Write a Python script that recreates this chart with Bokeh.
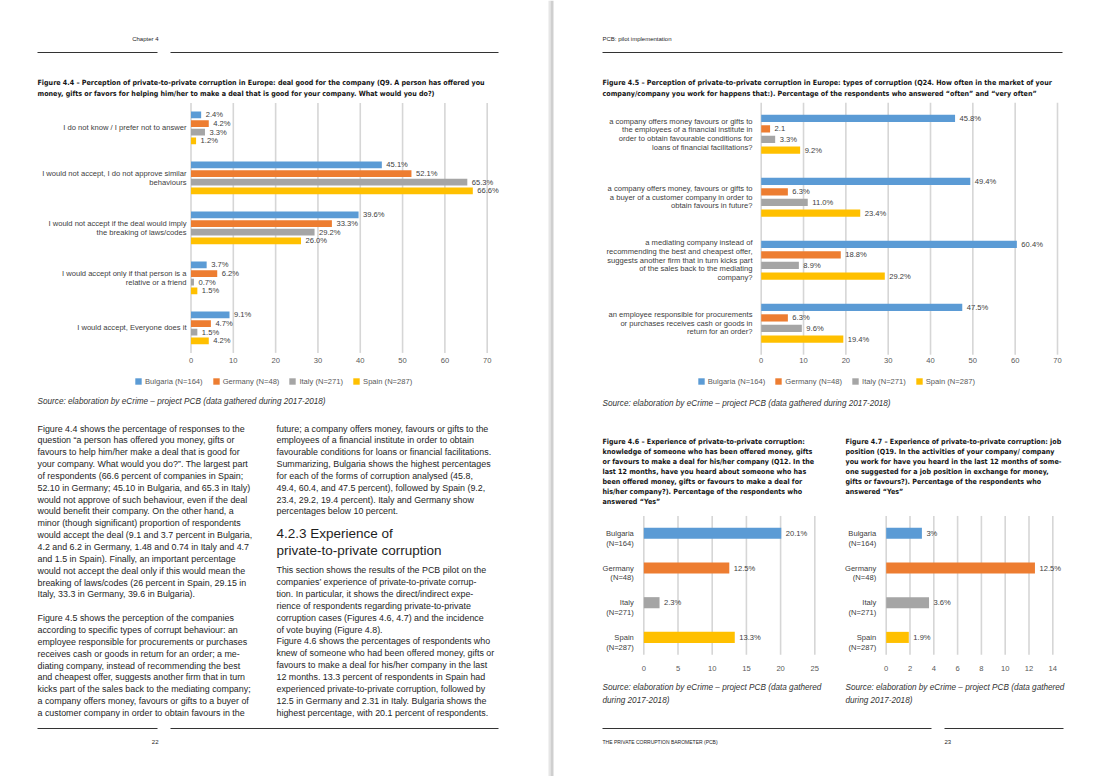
import numpy as np
from bokeh.plotting import figure
from bokeh.models import Range1d, ColumnDataSource, Legend, LegendItem
from bokeh.core.properties import value
from bokeh.transform import dodge
from bokeh.embed import file_html
from bokeh.resources import INLINE

# ---------------- data ----------------
series_names = ["Bulgaria (N=164)", "Germany (N=48)", "Italy (N=271)", "Spain (N=287)"]
series_colors = ["#5B9BD5", "#ED7D31", "#A5A5A5", "#FFC000"]

fig44_categories = [
    "I do not know / I prefer not to answer",
    "I would not accept, I do not approve similar\nbehaviours",
    "I would not accept if the deal would imply\nthe breaking of laws/codes",
    "I would accept only if that person is a\nrelative or a friend",
    "I would accept, Everyone does it",
]
fig44_bulgaria = [2.4, 45.1, 39.6, 3.7, 9.1]
fig44_germany = [4.2, 52.1, 33.3, 6.2, 4.7]
fig44_italy = [3.3, 65.3, 29.2, 0.7, 1.5]
fig44_spain = [1.2, 66.6, 26.0, 1.5, 4.2]
fig44_ticks = [0, 10, 20, 30, 40, 50, 60, 70]

fig45_categories = [
    "a company offers money favours or gifts to\nthe employees of a financial institute in\norder to obtain favourable conditions for\nloans of financial facilitations?",
    "a company offers money, favours or gifts to\na buyer of a customer company in order to\nobtain favours in future?",
    "a mediating company instead of\nrecommending the best and cheapest offer,\nsuggests another firm that in turn kicks part\nof the sales back to the mediating\ncompany?",
    "an employee responsible for procurements\nor purchases receives cash or goods in\nreturn for an order?",
]
fig45_bulgaria = [45.8, 49.4, 60.4, 47.5]
fig45_germany = [2.1, 6.3, 18.8, 6.3]
fig45_italy = [3.3, 11.0, 8.9, 9.6]
fig45_spain = [9.2, 23.4, 29.2, 19.4]
fig45_ticks = [0, 10, 20, 30, 40, 50, 60, 70]
fig45_label_overrides = {(1, 0): "2.1"}

country_labels = ["Bulgaria\n(N=164)", "Germany\n(N=48)", "Italy\n(N=271)", "Spain\n(N=287)"]
fig46_values = [20.1, 12.5, 2.3, 13.3]
fig46_ticks = [0, 5, 10, 15, 20, 25]
fig47_values = [3.0, 12.5, 3.6, 1.9]
fig47_ticks = [0, 2, 4, 6, 8, 10, 12, 14]
fig47_label_overrides = {0: "3%"}

# ---------------- page canvas ----------------
W, H = 1100, 776
FX0, FX1 = 0, W
FY0, FY1 = 0, H

p = figure(width=W, height=H, output_backend="svg", toolbar_location=None,
           x_range=Range1d(FX0, FX1), y_range=Range1d(FY1, FY0),
           x_axis_type=None, y_axis_type=None, min_border=0,
           outline_line_color=None, background_fill_color="white",
           border_fill_color="white")

BODY = "Liberation Sans"
TITLE = "DejaVu Sans Condensed"
TF = "7.1px"
TXT = "#1e1e1e"
TTL = "#141414"
LAB = "#404040"
TICK = "#595959"
LBL = "7.6px"


def text(x, y, rows, size, font=BODY, style="normal", color=TXT, align="left", baseline="middle"):
    xs = [x] * len(rows) if not isinstance(x, list) else x
    ys = y if isinstance(y, list) else [y]
    p.text(x=xs, y=ys, text=rows, text_font=value(font), text_font_size=size,
           text_font_style=style, text_color=color, text_align=align,
           text_baseline=baseline)


def block(x, y0, dy, rows, size, **kw):
    xs, ys, ts = [], [], []
    for i, r in enumerate(rows):
        if r:
            xs.append(x); ys.append(y0 + i * dy); ts.append(r)
    text(xs, ys, ts, size, **kw)


# page gutter
p.quad(left=[548], right=[550], top=[FY0], bottom=[FY1], fill_color="#e6e6e6", line_color=None)
p.quad(left=[550], right=[553], top=[FY0], bottom=[FY1], fill_color="#cfcfcf", line_color=None)

# header / footer rules
p.segment(x0=[37, 170, 602, 37, 170, 602, 944], y0=[52, 52, 52, 728, 728, 728, 728],
          x1=[157, 498, 1062, 157, 498, 931, 1063], y1=[52, 52, 52, 728, 728, 728, 728],
          line_color="#333333", line_width=1)
text(158, 38, ["Chapter 4"], "6px", align="right")
text(602, 38, ["PCB: pilot implementation"], "6px")
text(158, 741, ["22"], "6px", align="right")
text(944, 741, ["23"], "6px")
text(602, 741, ["THE PRIVATE CORRUPTION BAROMETER (PCB)"], "5px")

# figure titles
block(37, 82, 11, [
    "Figure 4.4 \u2013 Perception of private-to-private corruption in Europe: deal good for the company (Q9. A person has offered you",
    "money, gifts or favors for helping him/her to make a deal that is good for your company. What would you do?)",
], TF, font=TITLE, style="bold", color=TTL)
block(602, 82, 11, [
    "Figure 4.5 \u2013 Perception of private-to-private corruption in Europe: types of corruption (Q24. How often in the market of your",
    "company/company you work for happens that:). Percentage of the respondents who answered \u201coften\u201d and \u201cvery often\u201d",
], TF, font=TITLE, style="bold", color=TTL)
block(602, 440.5, 10.15, [
    "Figure 4.6 \u2013 Experience of private-to-private corruption:",
    "knowledge of someone who has been offered money, gifts",
    "or favours to make a deal for his/her company (Q12. In the",
    "last 12 months, have you heard about someone who has",
    "been offered money, gifts or favours to make a deal for",
    "his/her company?). Percentage of the respondents who",
    "answered \u201cYes\u201d",
], TF, font=TITLE, style="bold", color=TTL)
block(845, 440.5, 10.15, [
    "Figure 4.7 \u2013 Experience of private-to-private corruption: job",
    "position (Q19. In the activities of your company/ company",
    "you work for have you heard in the last 12 months of some-",
    "one suggested for a job position in exchange for money,",
    "gifts or favours?). Percentage of the respondents who",
    "answered \u201cYes\u201d",
], TF, font=TITLE, style="bold", color=TTL)

# sources
SRC = "Source: elaboration by eCrime \u2013 project PCB (data gathered during 2017-2018)"
SRCF = "8.2px"
text(37, 401, [SRC], SRCF, style="italic", color="#333333")
text(602, 403, [SRC], SRCF, style="italic", color="#333333")
block(602, 687, 12.5, ["Source: elaboration by eCrime \u2013 project PCB (data gathered", "during 2017-2018)"],
      SRCF, style="italic", color="#333333")
block(845, 687, 12.5, ["Source: elaboration by eCrime \u2013 project PCB (data gathered", "during 2017-2018)"],
      SRCF, style="italic", color="#333333")

# body text
LH = 11.85
BF = "8.9px"
col1 = [
    "Figure 4.4 shows the percentage of responses to the",
    "question \u201ca person has offered you money, gifts or",
    "favours to help him/her make a deal that is good for",
    "your company. What would you do?\u201d. The largest part",
    "of respondents (66.6 percent of companies in Spain;",
    "52.10 in Germany; 45.10 in Bulgaria, and 65.3 in Italy)",
    "would not approve of such behaviour, even if the deal",
    "would benefit their company. On the other hand, a",
    "minor (though significant) proportion of respondents",
    "would accept the deal (9.1 and 3.7 percent in Bulgaria,",
    "4.2 and 6.2 in Germany, 1.48 and 0.74 in Italy and 4.7",
    "and 1.5 in Spain). Finally, an important percentage",
    "would not accept the deal only if this would mean the",
    "breaking of laws/codes (26 percent in Spain, 29.15 in",
    "Italy, 33.3 in Germany, 39.6 in Bulgaria).",
    "",
    "Figure 4.5 shows the perception of the companies",
    "according to specific types of corrupt behaviour: an",
    "employee responsible for procurements or purchases",
    "receives cash or goods in return for an order; a me-",
    "diating company, instead of recommending the best",
    "and cheapest offer, suggests another firm that in turn",
    "kicks part of the sales back to the mediating company;",
    "a company offers money, favours or gifts to a buyer of",
    "a customer company in order to obtain favours in the",
]
block(37, 428, LH, col1, BF)
col2a = [
    "future; a company offers money, favours or gifts to the",
    "employees of a financial institute in order to obtain",
    "favourable conditions for loans or financial facilitations.",
    "Summarizing, Bulgaria shows the highest percentages",
    "for each of the forms of corruption analysed (45.8,",
    "49.4, 60.4, and 47.5 percent), followed by Spain (9.2,",
    "23.4, 29.2, 19.4 percent). Italy and Germany show",
    "percentages below 10 percent.",
]
block(276, 428, LH, col2a, BF)
block(276, 533, 17, ["4.2.3 Experience of", "private-to-private corruption"], "13.5px")
col2b = [
    "This section shows the results of the PCB pilot on the",
    "companies\u2019 experience of private-to-private corrup-",
    "tion. In particular, it shows the direct/indirect expe-",
    "rience of respondents regarding private-to-private",
    "corruption cases (Figures 4.6, 4.7) and the incidence",
    "of vote buying (Figure 4.8).",
    "Figure 4.6 shows the percentages of respondents who",
    "knew of someone who had been offered money, gifts or",
    "favours to make a deal for his/her company in the last",
    "12 months. 13.3 percent of respondents in Spain had",
    "experienced private-to-private corruption, followed by",
    "12.5 in Germany and 2.31 in Italy. Bulgaria shows the",
    "highest percentage, with 20.1 percent of respondents.",
]
block(276, 712 - 12 * LH, LH, col2b, BF)


# ---------------- charts ----------------
def chart_ranges(name, px0, pxmax, vmax, y_first, y_step):
    k = (pxmax - px0) / vmax
    p.extra_x_ranges[name] = Range1d((FX0 - px0) / k, (FX1 - px0) / k)
    p.extra_y_ranges[name] = Range1d((FY1 - y_first) / y_step, (FY0 - y_first) / y_step)


def grid_and_ticks(name, ticks, ncat, tick_y):
    n = len(ticks)
    p.segment(x0=ticks, x1=ticks, y0=[-0.5] * n, y1=[ncat - 0.5] * n,
              x_range_name=name, y_range_name=name, line_color="#d6d6d6", line_width=1.6)
    p.text(x=ticks, y=[tick_y] * n, text=[str(t) for t in ticks], x_range_name=name,
           text_font=value(BODY), text_font_size=LBL, text_color=TICK,
           text_align="center", text_baseline="middle")


def pct(v):
    return f"{v:.1f}%"


def grouped(name, cats, data, step, bar_h, label_x, overrides=None):
    overrides = overrides or {}
    idx = list(range(len(cats)))
    rends = []
    for j, vals in enumerate(data):
        off = (j - 1.5) * step
        labs = [overrides.get((j, i), pct(v)) for i, v in enumerate(vals)]
        src = ColumnDataSource(dict(idx=idx, v=vals, lab=labs))
        r = p.hbar(y=dodge("idx", off), left=0, right="v", height=bar_h, source=src,
                   fill_color=series_colors[j], line_color=None,
                   x_range_name=name, y_range_name=name)
        p.text(x="v", y=dodge("idx", off), text="lab", source=src, x_offset=4.5,
               x_range_name=name, y_range_name=name, text_font=value(BODY),
               text_font_size=LBL, text_color=LAB, text_align="left",
               text_baseline="middle")
        rends.append(r)
    p.text(x=[label_x] * len(cats), y=idx, text=cats, y_range_name=name,
           text_font=value(BODY), text_font_size=LBL, text_color=LAB,
           text_align="right", text_baseline="middle", text_line_height=0.97)
    return rends


def add_legend(rends, left_px, bottom_px):
    leg = Legend(items=[LegendItem(label=series_names[j], renderers=[r]) for j, r in enumerate(rends)],
                 location=(left_px - FX0, FY1 - bottom_px), orientation="horizontal",
                 padding=0, margin=0, spacing=9, label_standoff=3,
                 glyph_width=8, glyph_height=8, label_height=8,
                 label_text_font=BODY, label_text_font_size=LBL, label_text_color=TICK,
                 background_fill_alpha=0, border_line_color=None)
    p.add_layout(leg)


# Figure 4.4
chart_ranges("c44", 190.5, 486.7, 70, 127.4, 50.0)
grid_and_ticks("c44", fig44_ticks, len(fig44_categories), 360)
r44 = grouped("c44", fig44_categories, [fig44_bulgaria, fig44_germany, fig44_italy, fig44_spain],
              0.173, 0.135, 186)
add_legend(r44, 134, 385.5)

# Figure 4.5
chart_ranges("c45", 760.7, 1057.0, 70, 133.7, 63.0)
grid_and_ticks("c45", fig45_ticks, len(fig45_categories), 360)
r45 = grouped("c45", fig45_categories, [fig45_bulgaria, fig45_germany, fig45_italy, fig45_spain],
              0.168, 0.115, 752, fig45_label_overrides)
add_legend(r45, 696.7, 385.5)


def single(name, vals, label_x, overrides=None):
    overrides = overrides or {}
    idx = list(range(len(vals)))
    labs = [overrides.get(i, pct(v)) for i, v in enumerate(vals)]
    src = ColumnDataSource(dict(idx=idx, v=vals, lab=labs, c=series_colors))
    p.hbar(y="idx", left=0, right="v", height=0.32, source=src, fill_color="c", line_color=None,
           x_range_name=name, y_range_name=name)
    p.text(x="v", y="idx", text="lab", source=src, x_offset=4.5, x_range_name=name,
           y_range_name=name, text_font=value(BODY), text_font_size=LBL, text_color=LAB,
           text_align="left", text_baseline="middle")
    p.text(x=[label_x] * len(vals), y=idx, text=country_labels, y_range_name=name, y_offset=5,
           text_font=value(BODY), text_font_size=LBL, text_color=LAB,
           text_align="right", text_baseline="middle", text_line_height=1.1)


chart_ranges("c46", 643.3, 814.3, 25, 532.8, 34.7)
grid_and_ticks("c46", fig46_ticks, 4, 668)
single("c46", fig46_values, 633.3)

chart_ranges("c47", 885.7, 1052.3, 14, 532.8, 34.7)
grid_and_ticks("c47", fig47_ticks, 4, 668)
single("c47", fig47_values, 875.7, fig47_label_overrides)

open("out.html", "w").write(file_html(p, INLINE))
